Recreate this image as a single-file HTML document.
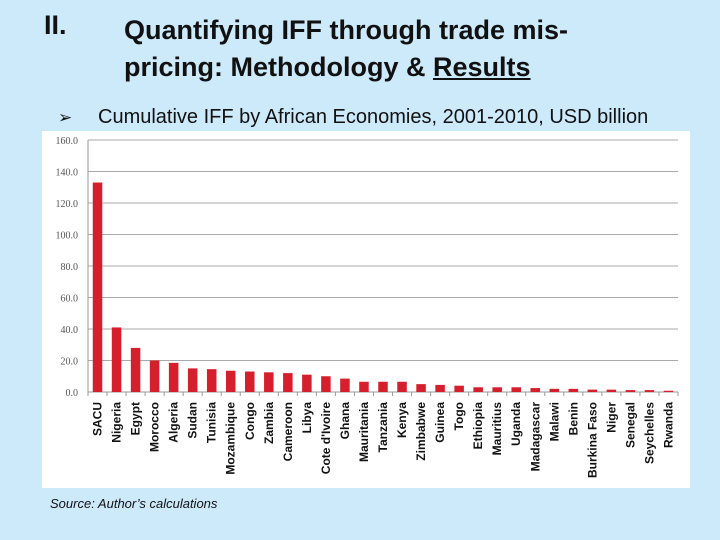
<!DOCTYPE html>
<html><head><meta charset="utf-8"><style>
body{margin:0;width:720px;height:540px;background:#cdeafb;font-family:"Liberation Sans",Arial,sans-serif;position:relative;overflow:hidden}
.t{position:absolute;font-weight:bold;font-size:27px;color:#111}
</style></head><body>
<div class="t" style="left:44px;top:10px">II.</div>
<div class="t" style="left:124px;top:12px;line-height:37px">Quantifying IFF through trade mis-<br>pricing: Methodology &amp; <u>Results</u></div>
<div style="position:absolute;left:58px;top:108px;font-size:17px;color:#111">➢</div>
<div style="position:absolute;left:98px;top:106px;font-size:20px;color:#111;white-space:nowrap">Cumulative IFF by African Economies, 2001-2010, USD billion</div>
<div style="position:absolute;left:42px;top:131px;width:648px;height:357px;background:#fff"></div>
<div style="position:absolute;left:50px;top:496px;font-size:13px;font-style:italic;color:#111">Source: Author’s calculations</div>
<svg id="c" width="720" height="540" style="position:absolute;left:0;top:0"></svg>
<script>
const categories=["SACU","Nigeria","Egypt","Morocco","Algeria","Sudan","Tunisia","Mozambique","Congo","Zambia","Cameroon","Libya","Cote d'Ivoire","Ghana","Mauritania","Tanzania","Kenya","Zimbabwe","Guinea","Togo","Ethiopia","Mauritius","Uganda","Madagascar","Malawi","Benin","Burkina Faso","Niger","Senegal","Seychelles","Rwanda"];
const values=[133,41,28,20,18.5,15,14.5,13.5,13,12.5,12,11,10,8.5,6.5,6.5,6.5,5,4.5,4,3,3,3,2.5,2,2,1.5,1.5,1.2,1.2,0.8];
const ticks=[0,20,40,60,80,100,120,140,160];
const NS="http://www.w3.org/2000/svg",svg=document.getElementById('c');
const x0=88,x1=678,y0=392,y160=140;
const y=v=>y0-(v/160)*(y0-y160);
const bw=(x1-x0)/categories.length;
const x=i=>x0+i*bw;
function mk(t,a){const e=document.createElementNS(NS,t);for(const k in a)e.setAttribute(k,a[k]);svg.appendChild(e);return e;}
ticks.forEach(v=>{
 const g=mk('line',{x1:x0,x2:x1,y1:y(v),y2:y(v),stroke:v?'#aaa':'#999','stroke-width':1});
 
 
 const t=mk('text',{x:x0-10,y:y(v)+4,'text-anchor':'end','font-size':10,fill:'#555','font-family':'Liberation Serif,serif'});
 t.textContent=v.toFixed(1);
 
 
});
const ax=mk('line',{x1:x0,x2:x0,y1:y160,y2:y0+4,stroke:'#999'});


categories.forEach((c,i)=>{
 const tk=mk('line',{x1:x(i+1),x2:x(i+1),y1:y0,y2:y0+4,stroke:'#999'});
 
 
 const r=mk('rect',{x:x(i)+bw*0.25,width:bw*0.5,y:y(values[i]),height:y0-y(values[i]),fill:'#d61f2c'});
 
 
 const cx=x(i)+bw/2+4;
 const t=mk('text',{x:0,y:0,transform:`translate(${cx},${y0+10}) rotate(-90)`,'text-anchor':'end','font-size':12,'font-weight':'bold',fill:'#111'});
 t.textContent=c;
 
 
});
</script>
</body></html>
